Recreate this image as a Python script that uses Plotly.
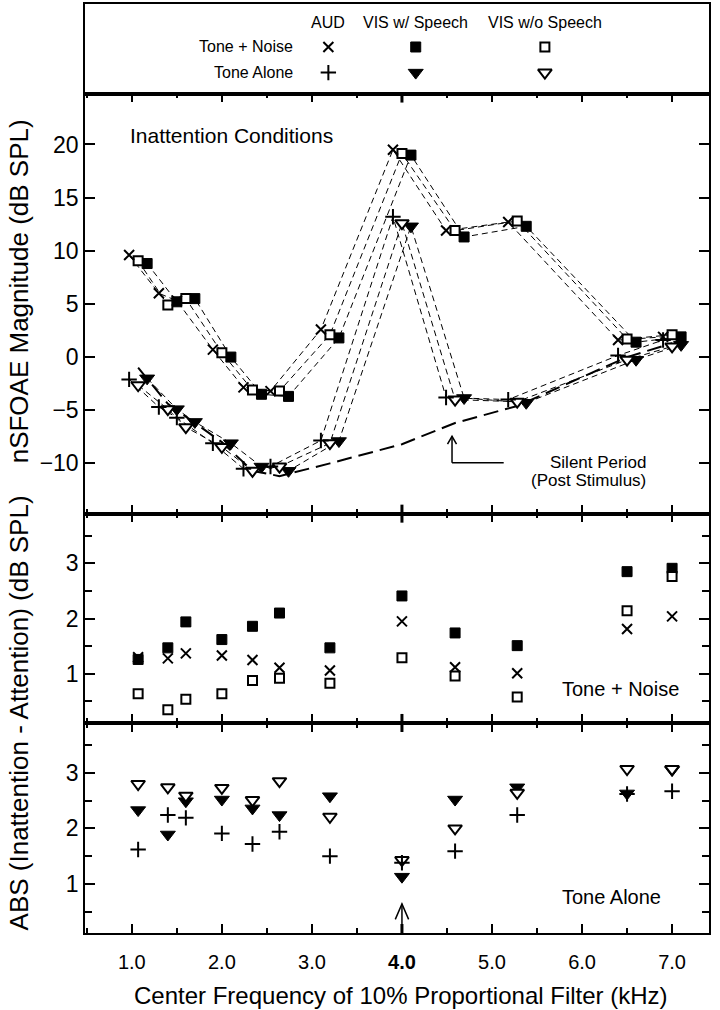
import plotly.graph_objects as go

# ---------------- data ----------------
freq = [1.07, 1.4, 1.6, 2.0, 2.34, 2.64, 3.2, 4.0, 4.59, 5.28, 6.5, 7.0]

# top panel: nSFOAE magnitude (dB SPL), inattention conditions
tn_aud = [9.6, 6.0, 5.3, 0.7, -2.85, -3.2, 2.6, 19.5, 11.9, 12.7, 1.6, 1.9]
tn_vis_sp = [8.8, 5.2, 5.5, 0.0, -3.5, -3.7, 1.8, 19.0, 11.3, 12.3, 1.4, 1.9]
tn_vis_nosp = [9.05, 4.9, 5.5, 0.4, -3.1, -3.2, 2.1, 19.15, 11.9, 12.8, 1.7, 2.1]
ta_aud = [-2.1, -4.7, -5.7, -8.1, -10.5, -10.3, -7.85, 13.2, -3.8, -4.0, 0.15, 1.6]
ta_vis_sp = [-2.0, -4.9, -6.1, -8.1, -10.3, -10.7, -7.9, 12.3, -3.85, -4.3, -0.25, 1.15]
ta_vis_nosp = [-2.65, -4.9, -6.6, -8.45, -10.7, -10.3, -8.1, 12.6, -4.0, -4.2, -0.25, 1.0]
silent = [-1.0, -4.4, -5.6, -8.0, -10.7, -11.2, -10.0, -8.2, -6.2, -4.6, 0.0, 1.3]

# middle panel: ABS(Inattention - Attention), Tone + Noise
abs_tn_aud = [1.30, 1.28, 1.37, 1.33, 1.25, 1.11, 1.06, 1.95, 1.12, 1.01, 1.81, 2.04]
abs_tn_vis_sp = [1.26, 1.47, 1.94, 1.62, 1.86, 2.10, 1.47, 2.41, 1.74, 1.51, 2.85, 2.91]
abs_tn_vis_nosp = [0.64, 0.35, 0.54, 0.64, 0.88, 0.92, 0.83, 1.29, 0.96, 0.58, 2.14, 2.76]

# bottom panel: ABS(Inattention - Attention), Tone Alone
abs_ta_aud = [1.62, 2.24, 2.19, 1.91, 1.72, 1.94, 1.50, 1.38, 1.59, 2.24, 2.62, 2.67]
abs_ta_vis_sp = [2.33, 1.89, 2.49, 2.52, 2.36, 2.24, 2.58, 1.13, 2.52, 2.74, 2.63, 3.05]
abs_ta_vis_nosp = [2.80, 2.74, 2.59, 2.73, 2.51, 2.85, 2.21, 1.43, 2.00, 2.64, 3.07, 3.07]

x_ticks = [1, 2, 3, 4, 5, 6, 7]
x_ticktext = ["1.0", "2.0", "3.0", "<b>4.0</b>", "5.0", "6.0", "7.0"]
top_ticks = [-10, -5, 0, 5, 10, 15, 20]
abs_ticks = [1, 2, 3]

# display offsets (kHz) used in the top panel to separate conditions
off_aud, off_nosp, off_sp = -0.1, 0.0, 0.1

FONT = "Liberation Sans, Arial, Helvetica, sans-serif"
BLK = "black"

fig = go.Figure()


def shift(xs, d):
    return [v + d for v in xs]


def dline(x, y, xa, ya, dash="6px,4px", width=1):
    fig.add_trace(go.Scatter(x=x, y=y, mode="lines", xaxis=xa, yaxis=ya,
                             line=dict(color=BLK, width=width, dash=dash),
                             showlegend=False, hoverinfo="skip"))


def marks(x, y, xa, ya, kind):
    if kind == "x":
        m = dict(symbol="x-thin", size=10, line=dict(color=BLK, width=2))
    elif kind == "+":
        m = dict(symbol="cross-thin", size=11, line=dict(color=BLK, width=2))
    elif kind == "sq":
        m = dict(symbol="square", size=10, color=BLK, line=dict(color=BLK, width=1))
    elif kind == "osq":
        m = dict(symbol="square", size=9, color="white", line=dict(color=BLK, width=2))
    elif kind == "tri":
        m = dict(symbol="triangle-down", size=13, color=BLK, line=dict(color=BLK, width=1))
    else:
        m = dict(symbol="triangle-down", size=12, color="white", line=dict(color=BLK, width=2))
    fig.add_trace(go.Scatter(x=x, y=y, mode="markers", xaxis=xa, yaxis=ya, marker=m,
                             showlegend=False, hoverinfo="skip"))


# ---- top panel (x3, y3) ----
dline(freq, silent, "x3", "y3", dash="15px,7px", width=2)
for d, ys in [(off_aud, tn_aud), (off_nosp, tn_vis_nosp), (off_sp, tn_vis_sp),
              (off_aud, ta_aud), (off_nosp, ta_vis_nosp), (off_sp, ta_vis_sp)]:
    dline(shift(freq, d), ys, "x3", "y3")
marks(shift(freq, off_sp), tn_vis_sp, "x3", "y3", "sq")
marks(shift(freq, off_nosp), tn_vis_nosp, "x3", "y3", "osq")
marks(shift(freq, off_aud), tn_aud, "x3", "y3", "x")
marks(shift(freq, off_sp), ta_vis_sp, "x3", "y3", "tri")
marks(shift(freq, off_nosp), ta_vis_nosp, "x3", "y3", "otri")
marks(shift(freq, off_aud), ta_aud, "x3", "y3", "+")

# ---- middle panel (x2, y2) ----
marks(freq, abs_tn_vis_sp, "x2", "y2", "sq")
marks(freq, abs_tn_vis_nosp, "x2", "y2", "osq")
marks(freq, abs_tn_aud, "x2", "y2", "x")

# ---- bottom panel (x, y) ----
marks(freq, abs_ta_vis_sp, "x", "y", "tri")
marks(freq, abs_ta_vis_nosp, "x", "y", "otri")
marks(freq, abs_ta_aud, "x", "y", "+")

# ---- legend box markers (x4, y4) ----
leg_cols = [0.39, 0.53, 0.737]
leg_rows = [0.52, 0.234]
marks([leg_cols[0]], [leg_rows[0]], "x4", "y4", "x")
marks([leg_cols[1]], [leg_rows[0]], "x4", "y4", "sq")
marks([leg_cols[2]], [leg_rows[0]], "x4", "y4", "osq")
marks([leg_cols[0]], [leg_rows[1]], "x4", "y4", "+")
marks([leg_cols[1]], [leg_rows[1]], "x4", "y4", "tri")
marks([leg_cols[2]], [leg_rows[1]], "x4", "y4", "otri")

# ---------------- axes ----------------
XR = [0.48, 7.41]
dom_bot = [0.0, 0.2261]
dom_mid = [0.2261, 0.4514]
dom_top = [0.4514, 0.9036]
dom_leg = [0.9036, 1.0]


def xax(anchor, labels):
    return dict(range=XR, anchor=anchor, tickmode="array", tickvals=x_ticks,
                ticktext=x_ticktext, ticks="inside", ticklen=9, tickwidth=1.5,
                tickcolor=BLK, showline=True, linecolor=BLK, linewidth=1.5,
                mirror="ticks", showgrid=False, zeroline=False,
                showticklabels=labels, tickfont=dict(family=FONT, size=20, color=BLK),
                ticklabelstandoff=10,
                minor=dict(tick0=0, dtick=0.5, ticks="inside", ticklen=5,
                           tickwidth=1.5, tickcolor=BLK, showgrid=False))


def yax(domain, rng, tickvals, minor):
    d = dict(domain=domain, range=rng, tickmode="array", tickvals=tickvals,
             ticks="inside", ticklen=10, tickwidth=1.5, tickcolor=BLK,
             showline=True, linecolor=BLK, linewidth=1.5, mirror="ticks",
             showgrid=False, zeroline=False,
             tickfont=dict(family=FONT, size=23, color=BLK))
    if minor:
        d["minor"] = dict(tick0=0, dtick=0.5, ticks="inside", ticklen=7,
                          tickwidth=1.5, tickcolor=BLK, showgrid=False)
    return d


fig.update_layout(
    width=720, height=1010,
    margin=dict(l=85, r=11, t=2, b=77),
    paper_bgcolor="white", plot_bgcolor="white",
    showlegend=False,
    xaxis=xax("y", True),
    xaxis2=xax("y2", False),
    xaxis3=xax("y3", False),
    yaxis=yax(dom_bot, [0.115, 3.9], abs_ticks, True),
    yaxis2=yax(dom_mid, [0.11, 3.9], abs_ticks, True),
    yaxis3=yax(dom_top, [-14.73, 24.79], top_ticks, False),
    xaxis4=dict(range=[0, 1], anchor="y4", showline=True, linecolor=BLK, linewidth=1.5,
                mirror=True, showticklabels=False, ticks="", showgrid=False, zeroline=False),
    yaxis4=dict(domain=dom_leg, range=[0, 1], showline=True, linecolor=BLK, linewidth=1.5,
                mirror=True, showticklabels=False, ticks="", showgrid=False, zeroline=False),
)

# bold 4.0 tick marks on each panel edge
shapes = []
for xr, yr in [("x", "y"), ("x2", "y2"), ("x3", "y3")]:
    for anc, y0, y1 in [(0, 0, 9), (1, -9, 0)]:
        shapes.append(dict(type="line", xref=xr, yref=yr + " domain", x0=4.0, x1=4.0,
                           ysizemode="pixel", yanchor=anc, y0=y0, y1=y1,
                           line=dict(color=BLK, width=3)))

# arrow at 4.0 kHz in bottom panel
shapes += [
    dict(type="line", xref="x", yref="y", x0=4.0, x1=4.0, y0=0.115, y1=0.64,
         line=dict(color=BLK, width=1.5)),
    dict(type="path", xref="x", yref="y", path="M 3.926,0.36 L 4.0,0.64 L 4.074,0.36",
         line=dict(color=BLK, width=1.5)),
]
# silent period pointer in top panel
shapes += [
    dict(type="line", xref="x3", yref="y3", x0=4.556, x1=4.556, y0=-9.95, y1=-7.45,
         line=dict(color=BLK, width=1.5)),
    dict(type="line", xref="x3", yref="y3", x0=4.556, x1=5.13, y0=-9.95, y1=-9.95,
         line=dict(color=BLK, width=1.5)),
    dict(type="path", xref="x3", yref="y3", path="M 4.506,-8.2 L 4.556,-7.45 L 4.606,-8.2",
         line=dict(color=BLK, width=1.5)),
]
fig.update_layout(shapes=shapes)

ann = []


def text(t, x, y, size, xref="paper", yref="paper", xanchor="center", angle=0, yanchor="middle"):
    ann.append(dict(text=t, x=x, y=y, xref=xref, yref=yref, xanchor=xanchor,
                    yanchor=yanchor, textangle=angle, showarrow=False,
                    font=dict(family=FONT, size=size, color=BLK)))


# legend texts
text("AUD", 0.39, 0.9799, 16)
text("VIS w/ Speech", 0.53, 0.9799, 16)
text("VIS w/o Speech", 0.737, 0.9799, 16)
text("Tone + Noise", 0.336, 0.9538, 16, xanchor="right")
text("Tone Alone", 0.336, 0.9262, 16, xanchor="right")

# panel texts
text("Inattention Conditions", 0.96, 20.8, 21, xref="x3", yref="y3", xanchor="left")
text("Silent Period", 6.735, -9.95, 17, xref="x3", yref="y3", xanchor="right")
text("(Post Stimulus)", 6.735, -11.58, 17, xref="x3", yref="y3", xanchor="right")
text("Tone + Noise", 5.76, 0.72, 20, xref="x2", yref="y2", xanchor="left")
text("Tone Alone", 5.76, 0.76, 20, xref="x", yref="y", xanchor="left")

# axis titles
text("nSFOAE Magnitude (dB SPL)", -0.1058, 0.6907, 26, angle=-90)
text("ABS (Inattention - Attention) (dB SPL)", -0.1058, 0.2374, 26, angle=-90)
text("Center Frequency of 10% Proportional Filter (kHz)", 0.506, -0.0677, 24)

fig.update_layout(annotations=ann)
fig.write_html("out.html", config={"displayModeBar": False},
               post_script="document.body.style.margin='0';document.body.style.padding='0';")
